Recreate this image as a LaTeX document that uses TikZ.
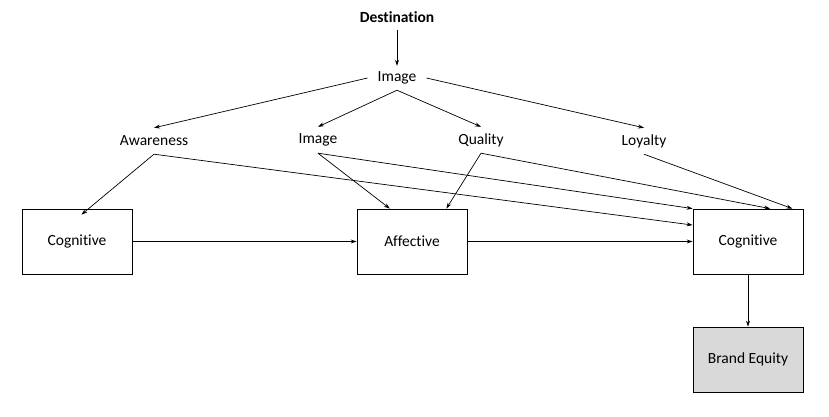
\documentclass[tikz,border=0pt]{standalone}
\usepackage{fontspec}
\setmainfont{Carlito}[Ligatures=NoCommon]
\usepackage{tikz}
\usetikzlibrary{calc,arrows.meta}
\tikzset{
	lbl/.style={minimum height=26pt, inner xsep=4pt, font=\fontsize{15.5}{18}\selectfont},
	box/.style={draw, line width=0.8pt, minimum width=110pt, minimum height=65pt, font=\fontsize{15.5}{18}\selectfont},
	conn/.style={line width=0.7pt, -{Stealth[length=6pt,width=4pt]}}
}

\begin{document}
\begin{tikzpicture}[x=1pt, y=-1pt]
			%%%%% START %%%%%
			\useasboundingbox (0, 0) rectangle (829, 416);
			
			\node[lbl, font=\fontsize{15.5}{18}\selectfont\bfseries] (dest) at (397, 17) {Destination};
			\node[lbl, inner xsep=10pt, minimum height=24pt] (img) at (397, 78) {Image};
			
			\node[lbl] (aware) at (154, 141) {Awareness};
			\node[lbl] (img2) at (318, 140) {Image};
			\node[lbl] (qual) at (481, 140) {Quality};
			\node[lbl] (loyal) at (644, 141) {Loyalty};
			
			\node[box] (cogL) at (77, 241.5) {Cognitive};
			\node[box] (aff) at (412, 241.5) {Affective};
			\node[box] (cogR) at (748, 241.5) {Cognitive};
			\node[box, fill=black!15] (brand) at (748, 359.5) {Brand Equity};
			
			\draw[conn] (dest) -- (img);
			\draw[conn] (img.west) -- (aware.north);
			\draw[conn] (img.south) -- (img2.north);
			\draw[conn] (img.south) -- (qual.north);
			\draw[conn] (img.east) -- (loyal.north);
			
			\draw[conn] (aware.south) -- ([yshift=-6pt]$(cogL.north west)!0.54!(cogL.north east)$);
			\draw[conn] (aware.south) -- ($(cogR.north west)!0.25!(cogR.south west)$);
			\draw[conn] (img2.south) -- ($(aff.north west)!0.3!(aff.north east)$);
			\draw[conn] (img2.south) -- (cogR.north west);
			\draw[conn] (qual.south) -- ($(aff.north west)!0.81!(aff.north east)$);
			\draw[conn] (qual.south) -- ($(cogR.north west)!0.7!(cogR.north east)$);
			\draw[conn] (loyal.south) -- ($(cogR.north west)!0.9!(cogR.north east)$);
			
			\draw[conn] (cogL) -- (aff);
			\draw[conn] (aff) -- (cogR);
			\draw[conn] (cogR) -- (brand);
			%%%%% END %%%%%
\end{tikzpicture}
\end{document}
